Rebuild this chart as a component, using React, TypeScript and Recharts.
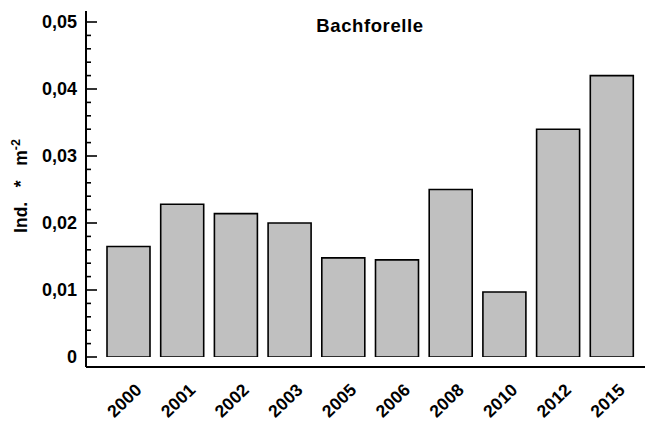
import React from "react";
import { BarChart, Bar, XAxis, YAxis } from "recharts";

const YEARS = ["2000", "2001", "2002", "2003", "2005", "2006", "2008", "2010", "2012", "2015"];
const DENSITY = [0.0165, 0.0228, 0.0214, 0.0200, 0.0148, 0.0145, 0.0250, 0.0097, 0.0340, 0.0420];
const MAJOR_TICKS = [0, 0.01, 0.02, 0.03, 0.04, 0.05];
const MINOR_TICKS = [
    0.002, 0.004, 0.006, 0.008,
    0.012, 0.014, 0.016, 0.018,
    0.022, 0.024, 0.026, 0.028,
    0.032, 0.034, 0.036, 0.038,
    0.042, 0.044, 0.046, 0.048,
];
const TITLE = "Bachforelle";

const FONT = "'Liberation Sans', Arial, sans-serif";
const Y_PADDING = { top: 11, bottom: 10 };

const data = YEARS.map((year, i) => ({ year, value: DENSITY[i] }));

const fmt = (v: number) => (v === 0 ? "0" : v.toFixed(2).replace(".", ","));

// left axis: ticks point into the plot, labels stay outside
const YTick = (props: any) => {
    const { x, y, payload } = props;
    const major = MAJOR_TICKS.includes(payload.value);
    return (
        <g>
            <line x1={x} x2={x + (major ? 11 : 5)} y1={y} y2={y} stroke="#000" strokeWidth={1.6} />
            {major && (
                <text x={x - 9} y={y} dy="0.36em" textAnchor="end" fontFamily={FONT} fontWeight="bold"
                    fontSize={18} fill="#000">
                    {fmt(payload.value)}
                </text>
            )}
        </g>
    );
};

const XTick = (props: any) => {
    const { x, y, payload } = props;
    return (
        <text transform={`translate(${x + 14},${y + 24}) rotate(-44)`} textAnchor="end" fontFamily={FONT}
            fontWeight="bold" fontSize={17.5} letterSpacing={0.2} fill="#000">
            {payload.value}
        </text>
    );
};

export default function App() {
    return (
        <div style={{ position: "absolute", top: 0, left: 0, width: 645, height: 423, background: "#fff" }}>
            <BarChart width={645} height={423} data={data} margin={{ top: 11, right: 0, bottom: 0, left: 0 }}>
                <XAxis dataKey="year" height={56} padding={{ left: 16, right: 6 }} tickLine={false} tickSize={0}
                    tickMargin={0} interval={0} tick={<XTick />} axisLine={{ stroke: "#000", strokeWidth: 2 }} />
                <XAxis xAxisId="top" dataKey="year" orientation="top" height={0} tick={false} tickLine={false}
                    axisLine={{ stroke: "#000", strokeWidth: 2 }} />
                <YAxis width={86} domain={[0, 0.05]} ticks={[...MAJOR_TICKS, ...MINOR_TICKS]} interval={0}
                    padding={Y_PADDING} tickLine={false} tickSize={0} tickMargin={0} tick={<YTick />}
                    axisLine={{ stroke: "#000", strokeWidth: 2 }} allowDataOverflow />
                <YAxis yAxisId="right" orientation="right" mirror width={0} domain={[0, 0.05]} ticks={MAJOR_TICKS}
                    interval={0} padding={Y_PADDING} axisLine={false} tickSize={2} tickFormatter={() => ""}
                    tickLine={{ stroke: "#000", strokeWidth: 1.5 }} />
                <Bar dataKey="value" fill="#c0c0c0" stroke="#000" strokeWidth={1.6} barSize={43}
                    isAnimationActive={false} />
            </BarChart>
            <svg width={645} height={423} style={{ position: "absolute", top: 0, left: 0, pointerEvents: "none" }}>
                <text x={370} y={32} textAnchor="middle" fontFamily={FONT} fontWeight="bold" fontSize={18.5}
                    letterSpacing={0.6}>
                    {TITLE}
                </text>
                <text transform="translate(27,186) rotate(-90)" textAnchor="middle" fontFamily={FONT}
                    fontWeight="bold" fontSize={17.5} style={{ whiteSpace: "pre" }}>
                    {"Ind.   *   m"}
                    <tspan dy={-7} fontSize={12.5}>-2</tspan>
                </text>
            </svg>
        </div>
    );
}
